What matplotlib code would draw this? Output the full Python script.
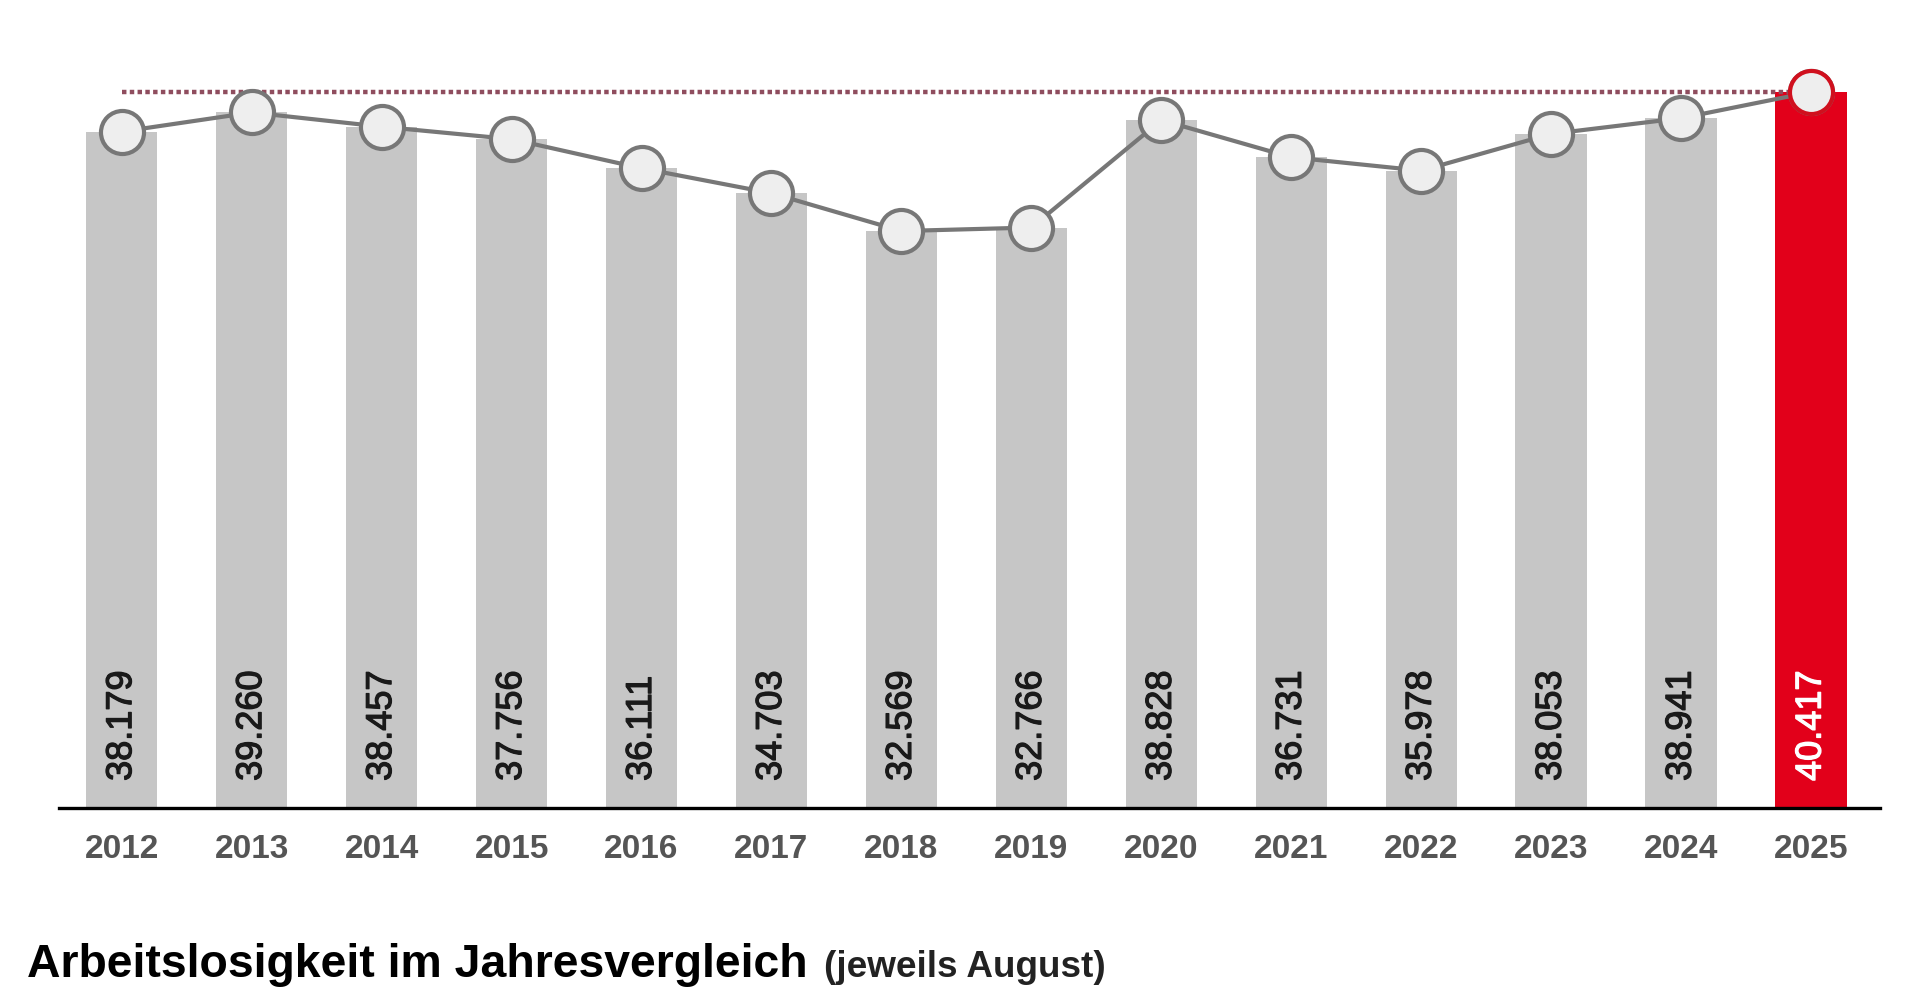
import matplotlib.pyplot as plt
import matplotlib.patheffects as pe
import numpy as np

plt.rcParams['font.family'] = ['Liberation Sans', 'DejaVu Sans']

years = ["2012", "2013", "2014", "2015", "2016", "2017", "2018",
         "2019", "2020", "2021", "2022", "2023", "2024", "2025"]
werte = [38179, 39260, 38457, 37756, 36111, 34703, 32569,
         32766, 38828, 36731, 35978, 38053, 38941, 40417]
labels = ["38.179", "39.260", "38.457", "37.756", "36.111", "34.703", "32.569",
          "32.766", "38.828", "36.731", "35.978", "38.053", "38.941", "40.417"]

grau = "#c6c6c6"
rot = "#e2001a"

x = np.arange(len(years))
farben = [grau] * (len(years) - 1) + [rot]

fig = plt.figure(figsize=(19.2, 10.02), dpi=100)
ax = fig.add_axes([0.0307, 0.1936, 0.9484, 0.7665])

ax.bar(x, werte, width=0.55, color=farben, zorder=1)

# Referenzlinie auf Höhe des aktuellen Werts
ax.plot([x[0], x[-1]], [werte[-1], werte[-1]], color="#8f4d5e", lw=3.2,
        dashes=(1, 0.75), dash_capstyle="butt", zorder=2)

ax.plot(x, werte, color="#777777", lw=3, zorder=3,
        marker="o", ms=31, mfc="#eeeeee", mec="#777777", mew=3, clip_on=False)
ax.plot(x[-1], werte[-1], marker="o", ms=31, mfc="#eeeeee", mec="#d0101e",
        mew=3, zorder=4, clip_on=False)

for i, lab in enumerate(labels):
    c = "white" if i == len(labels) - 1 else "#1a1a1a"
    ax.annotate(lab, (x[i], 0), xytext=(0, 19.5), textcoords="offset points",
                rotation=90, ha="center", va="bottom", fontsize=26, color=c,
                zorder=5,
                path_effects=[pe.withStroke(linewidth=0.9, foreground=c)])

ax.set_xlim(-0.483, 13.529)
ax.set_ylim(0, 43353)
ax.set_xticks(x)
ax.set_xticklabels(years, fontsize=24, fontweight="bold", color="#555555")
ax.tick_params(axis="x", length=0, pad=19)
ax.set_yticks([])
for s in ["left", "right", "top"]:
    ax.spines[s].set_visible(False)
ax.spines["bottom"].set_linewidth(2.4)
ax.spines["bottom"].set_color("black")
ax.spines["bottom"].set_zorder(6)

titel = fig.text(27 / 1920, 0.025, "Arbeitslosigkeit im Jahresvergleich",
                 fontsize=33.4, fontweight="bold", color="black", va="baseline")
fig.canvas.draw()
bb = titel.get_window_extent()
fig.text((bb.x1 + 16) / 1920, 0.025, "(jeweils August)", fontsize=26.6,
         fontweight="bold", color="#222222", va="baseline")

fig.savefig("out.png", dpi=100)
